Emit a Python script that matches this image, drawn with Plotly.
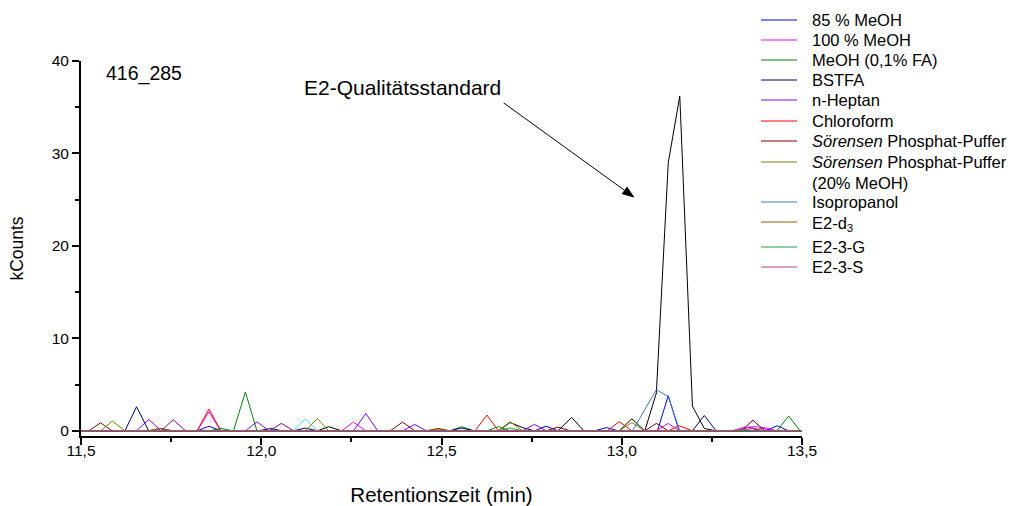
import plotly.graph_objects as go

# ---------------- data (retention time in min, signal in kCounts) ----------------
t_85 = [11.50, 11.822, 11.855, 11.888, 12.758, 12.790, 12.823, 12.925, 12.957, 12.990,
        13.099, 13.129, 13.159, 13.320, 13.352, 13.385, 13.400, 13.431, 13.463, 13.50]
v_85 = [0, 0, 0.5, 0, 0, 0.5, 0, 0, 0.35, 0, 0, 3.8, 0, 0, 0.4, 0, 0, 0.55, 0, 0]

t_100 = [11.50, 11.822, 11.855, 11.888, 12.223, 12.256, 12.290, 13.096, 13.129, 13.161,
         13.305, 13.337, 13.370, 13.402, 13.430, 13.50]
v_100 = [0, 0, 2.05, 0, 0, 0.94, 0, 0, 0.8, 0, 0, 0.35, 0.45, 0.3, 0, 0]

t_fa = [11.50, 11.855, 11.888, 11.923, 11.956, 11.988, 12.523, 12.556, 12.590, 12.626,
        12.658, 12.690, 13.430, 13.463, 13.495, 13.50]
v_fa = [0, 0, 0.25, 0, 4.2, 0, 0, 0.45, 0, 0, 0.45, 0, 0, 1.6, 0, 0]

t_bstfa = [11.50, 11.622, 11.654, 11.688, 11.993, 12.025, 12.058, 12.090, 12.122, 12.156,
           12.523, 12.556, 12.590, 13.196, 13.229, 13.262, 13.50]
v_bstfa = [0, 0, 2.6, 0, 0, 0.25, 0, 0, 0.3, 0, 0, 0.3, 0, 0, 1.66, 0, 0]

t_hep = [11.50, 11.654, 11.688, 11.722, 11.956, 11.988, 12.022, 12.256, 12.290, 12.323,
         12.392, 12.426, 12.458, 12.725, 12.758, 12.790, 13.357, 13.390, 13.422, 13.50]
v_hep = [0, 0, 1.23, 0, 0, 0.97, 0, 0, 1.88, 0, 0, 0.69, 0, 0, 0.7, 0, 0, 0.25, 0, 0]

t_chl = [11.50, 11.822, 11.855, 11.888, 12.593, 12.626, 12.658, 12.960, 12.993, 13.028,
         13.129, 13.159, 13.196, 13.50]
v_chl = [0, 0, 2.35, 0, 0, 1.7, 0, 0, 1.0, 0, 0, 0.55, 0, 0]

t_sor = [11.50, 11.522, 11.554, 11.587, 11.688, 11.720, 11.756, 12.358, 12.392, 12.426,
         12.458, 12.490, 12.523, 12.790, 12.823, 12.858, 13.064, 13.096, 13.129, 13.331,
         13.364, 13.397, 13.50]
v_sor = [0, 0, 0.86, 0, 0, 0.25, 0, 0, 0.94, 0, 0, 0.25, 0, 0, 0.4, 0, 0, 0.8, 0, 0,
         1.15, 0, 0]

t_sor20 = [11.50, 11.554, 11.587, 11.622, 12.122, 12.156, 12.187, 12.658, 12.690, 12.725,
           12.993, 13.028, 13.064, 13.50]
v_sor20 = [0, 0, 1.05, 0, 0, 1.33, 0, 0, 0.98, 0, 0, 0.9, 0, 0]

t_iso = [11.50, 13.030, 13.096, 13.129, 13.161, 13.50]
v_iso = [0, 0, 4.45, 3.7, 0, 0]

t_d3 = [11.50, 11.688, 11.718, 11.750, 12.458, 12.490, 12.523, 13.331, 13.364, 13.397, 13.50]
v_d3 = [0, 0, 0.25, 0, 0, 0.2, 0, 0, 0.3, 0, 0]

t_g = [11.50, 12.658, 12.690, 12.725, 13.50]
v_g = [0, 0, 0.3, 0, 0]

t_s = [11.50, 13.305, 13.337, 13.370, 13.50]
v_s = [0, 0, 0.2, 0, 0]

# series not listed in the legend
t_std = [11.50, 12.156, 12.187, 12.223, 12.658, 12.690, 12.725, 12.758, 12.823, 12.861,
         12.895, 12.993, 13.028, 13.064, 13.096, 13.129, 13.161, 13.196, 13.229, 13.262, 13.50]
v_std = [0, 0, 0.45, 0, 0, 0.9, 0.35, 0, 0, 1.45, 0, 0, 1.3, 0, 4.1, 29.0, 36.2, 2.67,
         0.25, 0, 0]

t_purple = [11.50, 11.722, 11.756, 11.790, 12.022, 12.056, 12.090, 13.50]
v_purple = [0, 0, 1.2, 0, 0, 0.8, 0, 0]

t_cyan = [11.50, 12.090, 12.122, 12.156, 13.50]
v_cyan = [0, 0, 1.3, 0, 0]

legend_names = ["85 % MeOH", "100 % MeOH", "MeOH (0,1% FA)", "BSTFA", "n-Heptan",
                "Chloroform", "<i>Sörensen</i> Phosphat-Puffer",
                "<i>Sörensen</i> Phosphat-Puffer<br>(20% MeOH)", "Isopropanol",
                "E2-d<sub>3</sub>", "E2-3-G", "E2-3-S"]

x_tickvals = [11.5, 12.0, 12.5, 13.0, 13.5]
y_tickvals = [0, 10, 20, 30, 40]

# arrow of the annotation: tip in data units
arrow_tip = (13.033, 25.3)

# ---------------- styles ----------------
FONT = "Arial, 'Liberation Sans', sans-serif"
colors = ["#0000FF", "#FF00FF", "#008000", "#000080", "#8000FF", "#FF0000",
          "#800000", "#808000", "#3A7BC8", "#A05A00", "#20A040", "#C0408A"]

legend_series = [(t_85, v_85), (t_100, v_100), (t_fa, v_fa), (t_bstfa, v_bstfa),
                 (t_hep, v_hep), (t_chl, v_chl), (t_sor, v_sor), (t_sor20, v_sor20),
                 (t_iso, v_iso), (t_d3, v_d3), (t_g, v_g), (t_s, v_s)]

fig = go.Figure()

# un-listed traces first
for (t, v, c, n) in [(t_purple, v_purple, "#800080", "unbekannt 1"),
                     (t_cyan, v_cyan, "#45E0F0", "unbekannt 2"),
                     (t_std, v_std, "#000000", "E2-Qualitätsstandard")]:
    fig.add_trace(go.Scatter(x=t, y=v, mode="lines", name=n,
                             line=dict(color=c, width=1), showlegend=False))

for (name, (t, v), c) in zip(legend_names, legend_series, colors):
    fig.add_trace(go.Scatter(x=t, y=v, mode="lines", name=name,
                             line=dict(color=c, width=1), showlegend=False))

# ---------------- plot-area geometry (pixels) ----------------
W, H = 1010, 506
L, R, T, B = 81, 802, 61, 436
XR = [11.5, 13.5]
YR = [-0.56, 40]


def px_x(px):
    return (px - L) / (R - L)


def px_y(py):
    return (B - py) / (B - T)


def data_to_px(x, y):
    return (L + (x - XR[0]) / (XR[1] - XR[0]) * (R - L),
            B - (y - YR[0]) / (YR[1] - YR[0]) * (B - T))


# manual legend (line sample + text)
leg_line_y = [20, 40, 60, 80, 100, 121, 141, 162, 202, 222, 247, 267]
leg_text_dy = [0, 0, 0, 0, 0, 0, 0, 10.5, 0, 2, 0, 0]
shapes = []
annotations = []
for name, c, ly, dy in zip(legend_names, colors, leg_line_y, leg_text_dy):
    shapes.append(dict(type="line", xref="paper", yref="paper",
                       x0=px_x(761), x1=px_x(797), y0=px_y(ly), y1=px_y(ly),
                       line=dict(color=c, width=1)))
    annotations.append(dict(xref="paper", yref="paper", x=px_x(810), y=px_y(ly + dy),
                            xanchor="left", yanchor="middle", text=name, showarrow=False,
                            align="left", font=dict(family=FONT, size=16.5, color="black")))

annotations.append(dict(xref="paper", yref="paper", x=px_x(104), y=px_y(73),
                        xanchor="left", yanchor="middle", text="416_285", showarrow=False,
                        font=dict(family=FONT, size=19.5, color="black")))
annotations.append(dict(xref="paper", yref="paper", x=px_x(302), y=px_y(87),
                        xanchor="left", yanchor="middle", text="E2-Qualitätsstandard",
                        showarrow=False, font=dict(family=FONT, size=21, color="black")))

# arrow: line + filled head, drawn as shapes
tip_px = data_to_px(*arrow_tip)
tail_px = (tip_px[0] - 130, tip_px[1] - 94)
dx, dy = tip_px[0] - tail_px[0], tip_px[1] - tail_px[1]
ln = (dx * dx + dy * dy) ** 0.5
ux, uy = dx / ln, dy / ln
head_len, head_half = 11, 4
bx, by = tip_px[0] - head_len * ux, tip_px[1] - head_len * uy
c1 = (bx - head_half * uy, by + head_half * ux)
c2 = (bx + head_half * uy, by - head_half * ux)
shapes.append(dict(type="line", xref="paper", yref="paper",
                   x0=px_x(tail_px[0]), y0=px_y(tail_px[1]), x1=px_x(bx), y1=px_y(by),
                   line=dict(color="black", width=1)))
shapes.append(dict(type="path", xref="paper", yref="paper",
                   path="M {} {} L {} {} L {} {} Z".format(
                       px_x(tip_px[0]), px_y(tip_px[1]), px_x(c1[0]), px_y(c1[1]),
                       px_x(c2[0]), px_y(c2[1])),
                   fillcolor="black", line=dict(color="black", width=1)))

fig.update_layout(
    width=W, height=H,
    margin=dict(l=L, r=W - R, t=T, b=H - B, pad=0),
    paper_bgcolor="white", plot_bgcolor="white",
    separators=",.",
    font=dict(family=FONT, size=15, color="black"),
    showlegend=False,
    shapes=shapes,
    annotations=annotations,
)
fig.update_xaxes(
    range=XR, tickvals=x_tickvals, tickformat=".1f", automargin=False,
    showline=True, linecolor="black", linewidth=2,
    ticks="outside", ticklen=7, tickwidth=1.5, tickcolor="black",
    ticklabelstandoff=-8,
    minor=dict(dtick=0.25, tick0=11.5, ticks="outside", ticklen=4, tickwidth=1.5,
               tickcolor="black"),
    showgrid=False, zeroline=False,
    tickfont=dict(size=15.5),
    title=dict(text="Retentionszeit (min)", font=dict(size=20.5), standoff=34),
)
fig.update_yaxes(
    range=YR, tickvals=y_tickvals, automargin=False,
    showline=True, linecolor="black", linewidth=2,
    ticks="outside", ticklen=7, tickwidth=1.5, tickcolor="black",
    minor=dict(dtick=5, tick0=0, ticks="outside", ticklen=4, tickwidth=1.5,
               tickcolor="black"),
    showgrid=False, zeroline=False,
    tickfont=dict(size=15.5),
    title=dict(text="kCounts", font=dict(size=17.5), standoff=24),
)

fig.write_html("out.html")
